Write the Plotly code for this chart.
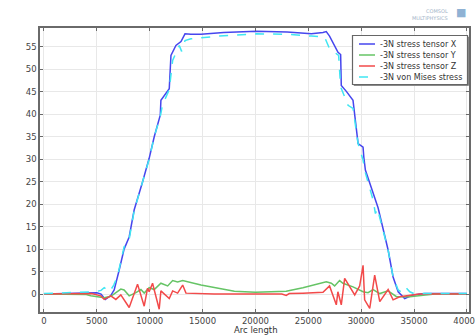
import plotly.graph_objects as go

# --- data ---
x_sx = [0, 2000, 4000, 5000, 5400, 5800, 6300, 6640, 7110, 7580, 8060, 8530, 9330, 9950, 10430,
        11000, 11060, 11850, 12010, 12480, 12960, 13340, 13900, 14850, 17000, 20070, 23000, 25290,
        26390, 26700, 27010, 27810, 28060, 28120, 28600, 29230, 29710, 30180, 30250, 30400, 31600,
        32550, 33020, 33500, 34120, 34920, 36000, 38000, 40000]
y_sx = [0.0, 0.1, 0.2, 0.3, 0.0, -1.2, -0.4, 0.9, 5.3, 10.0, 12.7, 18.7, 25.0, 30.2, 35.0,
        39.8, 43.1, 45.7, 53.1, 55.3, 56.2, 57.9, 57.8, 57.8, 58.2, 58.5, 58.3, 57.9,
        58.2, 58.4, 57.4, 53.8, 53.3, 46.4, 45.1, 43.1, 33.5, 32.7, 30.5, 27.6, 19.2,
        9.8, 3.8, 0.5, -1.0, -0.2, 0.1, 0.1, 0.1]

x_sy = [0, 2000, 4000, 4430, 5000, 5700, 6320, 6960, 7270, 7580, 8060, 8700, 9170, 9480, 9950,
        10430, 11060, 11700, 12170, 12640, 13120, 14850, 16430, 18010, 20000, 22910, 24490, 26700,
        27180, 27490, 27960, 28280, 29230, 30180, 30650, 31130, 31760, 32550, 33340, 34600, 35860,
        37000, 40000]
y_sy = [0.0, 0.0, -0.1, -0.4, -0.6, -0.8, -0.5, 0.5, 1.1, 0.9, -0.4, 0.3, 1.0, 0.2, 1.4,
        1.0, 2.4, 1.8, 3.0, 2.7, 3.0, 2.0, 1.3, 0.6, 0.4, 0.6, 1.4, 2.7,
        2.4, 1.8, 3.0, 2.4, 1.6, 0.5, 0.3, 1.0, 0.1, 0.7, -0.6, -0.6, -0.3,
        0.0, 0.0]

x_sz = [0, 3000, 4500, 5370, 5690, 6320, 6800, 7270, 8060, 8850, 9480, 9800, 9950, 10270, 10900,
        11060, 11850, 12170, 12640, 13120, 13430, 16110, 20000, 22500, 22910, 23200, 24490, 26390,
        27010, 27650, 27800, 28120, 28440, 28910, 29390, 29860, 30180, 30330, 30810, 31280, 31760,
        32550, 33020, 33650, 34600, 35500, 40000]
y_sz = [0.0, 0.0, 0.1, -0.4, -1.2, -0.4, -1.2, -0.2, -3.0, 2.2, -2.7, 1.3, 0.5, 2.4, -3.4,
        0.7, -1.0, 0.7, 0.2, 2.0, 0.2, 0.0, 0.0, 0.0, -0.3, 0.1, 0.2, 0.4,
        1.8, -2.4, 0.5, -2.4, 3.5, 1.6, -0.2, 1.8, 6.4, -1.3, -3.2, 4.2, -1.7,
        1.0, -1.3, -0.6, -0.3, 0.0, 0.0]

x_vm = [0, 2000, 4000, 4800, 5400, 5700, 6200, 6600, 6960, 7580, 8060, 8530, 9330, 9950, 10430,
        11000, 11200, 11850, 12170, 12640, 12800, 13020, 13340, 13900, 14850, 17000, 20070, 23000,
        25290, 26540, 27010, 27870, 28060, 28760, 29230, 29710, 30180, 30400, 31130, 31350, 31540,
        32550, 33020, 33500, 33970, 34280, 34600, 35000, 36000, 40000]
y_vm = [0.1, 0.2, 0.3, 0.5, 0.8, 1.4, 0.5, 2.0, 4.0, 10.5, 12.2, 18.5, 25.0, 30.0, 35.0,
        39.5, 42.0, 45.5, 52.0, 54.2, 55.3, 54.0, 56.4, 56.8, 57.0, 57.5, 57.9, 57.8,
        57.4, 57.2, 54.6, 53.1, 46.1, 42.0, 41.3, 33.5, 29.8, 27.0, 20.9, 17.9, 19.0,
        9.8, 3.8, 0.9, 0.2, 1.3, 0.5, 0.1, 0.1, 0.1]

names = ["-3N stress tensor X", "-3N stress tensor Y", "-3N stress tensor Z", "-3N von Mises stress"]
colors = ["#4646ee", "#66c466", "#f24a4a", "#3fe6f2"]
dashes = ["solid", "solid", "solid", "dash"]
x_ticks = [0, 5000, 10000, 15000, 20000, 25000, 30000, 35000, 40000]
y_ticks = [0, 5, 10, 15, 20, 25, 30, 35, 40, 45, 50, 55]

# layout geometry (pixels)
W, H = 475, 336
ML, MR, MT, MB = 40, 6, 28, 24
PW, PH = W - ML - MR, H - MT - MB


def px(xp):
    return (xp - ML) / PW


def py(yp):
    return (H - MB - yp) / PH


fig = go.Figure()
for xs, ys, nm, c, d in zip([x_sx, x_sy, x_sz, x_vm], [y_sx, y_sy, y_sz, y_vm], names, colors, dashes):
    fig.add_trace(go.Scatter(x=xs, y=ys, mode="lines", name=nm,
                             line=dict(color=c, width=1.5, dash=d)))

axis_common = dict(
    showgrid=True, gridcolor="#e8e8e8", gridwidth=1,
    showline=True, linecolor="#6a6a6a", linewidth=1.5, mirror="ticks",
    ticks="inside", ticklen=3, tickcolor="#6a6a6a",
    tickfont=dict(family="DejaVu Sans", size=8.5, color="#444444"),
    zeroline=False, automargin=False, ticklabeloverflow="allow",
)

shapes = []
annotations = []
# manual legend box (matches reference placement)
shapes.append(dict(type="rect", xref="paper", yref="paper",
                   x0=px(354), x1=px(468.5), y0=py(85.5), y1=py(37),
                   line=dict(color="#8a8a8a", width=1), fillcolor="rgba(0,0,0,0.12)", layer="above"))
shapes.append(dict(type="rect", xref="paper", yref="paper",
                   x0=px(352.5), x1=px(467.5), y0=py(84.5), y1=py(35.5),
                   line=dict(color="#666666", width=1.2), fillcolor="white", layer="above"))
row_y = [44, 55, 66, 77]
for ry, nm, c, d in zip(row_y, names, colors, dashes):
    shapes.append(dict(type="line", xref="paper", yref="paper",
                       x0=px(359), x1=px(375), y0=py(ry), y1=py(ry),
                       line=dict(color=c, width=1.5, dash=d), layer="above"))
    annotations.append(dict(text=nm, xref="paper", yref="paper", x=px(377.5), y=py(ry),
                            xanchor="left", yanchor="middle", showarrow=False,
                            font=dict(family="DejaVu Sans", size=8, color="#333333")))

annotations += [
    dict(text="Arc length", xref="paper", yref="paper", x=px(256), y=py(329.5),
         xanchor="center", yanchor="middle", showarrow=False,
         font=dict(family="DejaVu Sans", size=8.5, color="#333333")),
    dict(text="COMSOL<br>MULTIPHYSICS", xref="paper", yref="paper", x=px(450), y=py(14),
         xanchor="right", yanchor="middle", showarrow=False,
         font=dict(family="DejaVu Sans", size=5, color="#9fb4c8"), align="right"),
    dict(text="■", xref="paper", yref="paper", x=px(461), y=py(13),
         xanchor="center", yanchor="middle", showarrow=False,
         font=dict(family="DejaVu Sans", size=11, color="#8fb2d4")),
]

fig.update_layout(
    width=W, height=H,
    margin=dict(l=ML, r=MR, t=MT, b=MB, autoexpand=False),
    paper_bgcolor="white", plot_bgcolor="white",
    xaxis=dict(range=[-375, 40200], tickvals=x_ticks, ticktext=[str(v) for v in x_ticks],
               **axis_common),
    yaxis=dict(range=[-4, 59.2], tickvals=y_ticks, **axis_common),
    showlegend=False,
    shapes=shapes,
    annotations=annotations,
)

fig.write_html("out.html")
